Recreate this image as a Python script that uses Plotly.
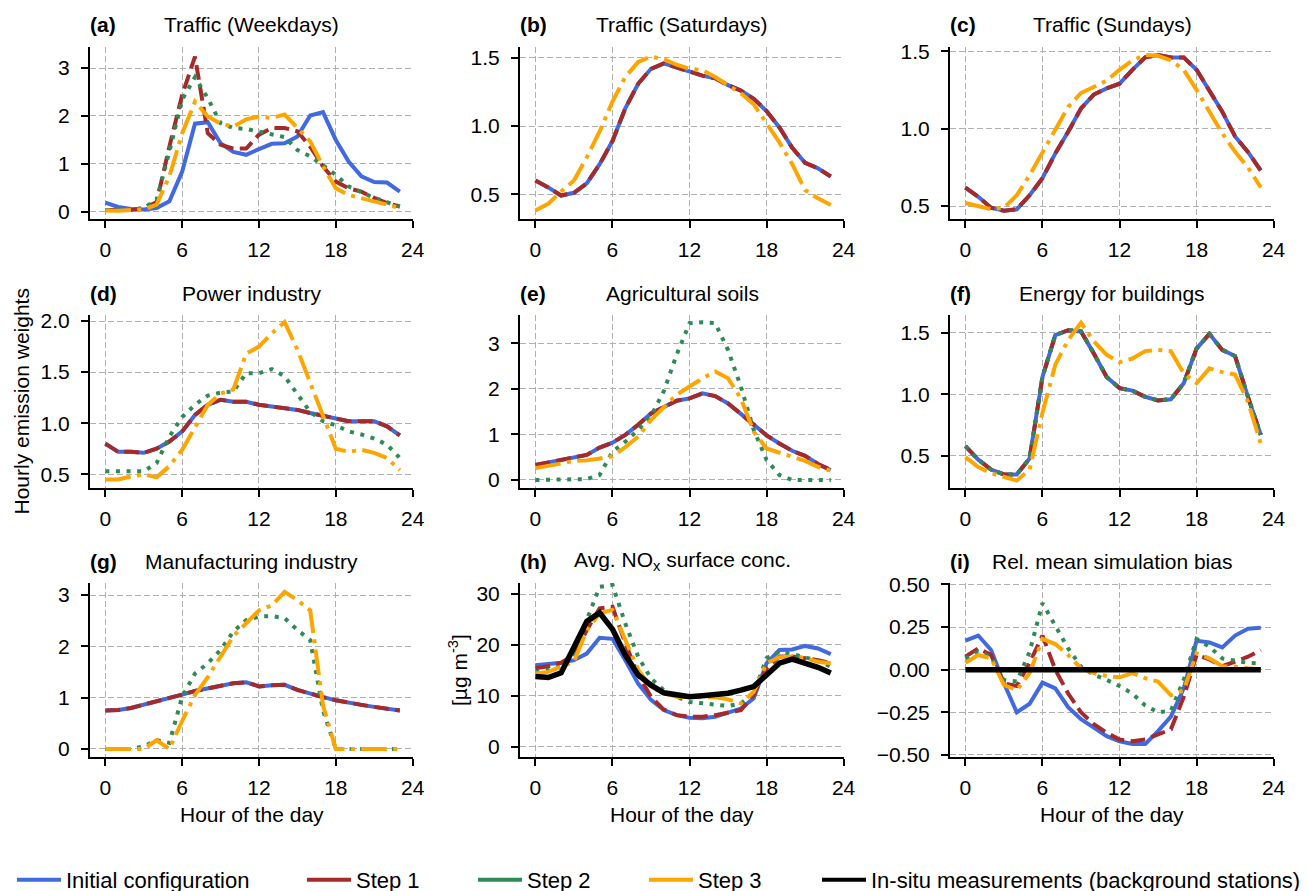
import plotly.graph_objects as go
from plotly.subplots import make_subplots

W, H = 1307, 891
hours = list(range(24))
xticks = [0, 6, 12, 18, 24]

# ---------------- data ----------------
# (a) Traffic (Weekdays)
a_init = [0.19, 0.10, 0.06, 0.05, 0.08, 0.22, 0.84, 1.84, 1.87, 1.43, 1.25, 1.19,
          1.31, 1.42, 1.43, 1.57, 2.01, 2.08, 1.50, 1.05, 0.74, 0.62, 0.61, 0.42]
a_s1 = [0.04, 0.03, 0.04, 0.08, 0.20, 1.36, 2.44, 3.24, 1.64, 1.40, 1.32, 1.32,
        1.61, 1.75, 1.75, 1.68, 1.36, 0.95, 0.63, 0.49, 0.42, 0.29, 0.18, 0.11]
a_s2 = [0.04, 0.03, 0.04, 0.08, 0.25, 1.26, 2.34, 2.81, 2.37, 1.85, 1.75, 1.73,
        1.68, 1.61, 1.56, 1.29, 1.16, 0.97, 0.77, 0.53, 0.40, 0.29, 0.20, 0.11]
a_s3 = [0.03, 0.02, 0.04, 0.05, 0.15, 0.74, 1.64, 2.30, 1.99, 1.84, 1.78, 1.93,
        1.99, 1.96, 2.03, 1.76, 1.47, 0.95, 0.49, 0.35, 0.29, 0.22, 0.15, 0.08]

# (b) Traffic (Saturdays)
b_init = [0.60, 0.55, 0.49, 0.51, 0.58, 0.72, 0.89, 1.13, 1.31, 1.42, 1.46, 1.43,
          1.40, 1.37, 1.35, 1.30, 1.26, 1.20, 1.11, 0.99, 0.84, 0.73, 0.69, 0.63]
b_s1 = [0.60, 0.55, 0.49, 0.51, 0.58, 0.72, 0.89, 1.13, 1.31, 1.42, 1.46, 1.43,
        1.40, 1.37, 1.35, 1.30, 1.26, 1.20, 1.11, 0.99, 0.84, 0.73, 0.69, 0.63]
b_s3 = [0.38, 0.43, 0.52, 0.60, 0.77, 0.96, 1.18, 1.36, 1.47, 1.51, 1.49, 1.45,
        1.42, 1.41, 1.36, 1.30, 1.24, 1.16, 1.02, 0.88, 0.72, 0.53, 0.47, 0.42]

# (c) Traffic (Sundays)
c_init = [0.62, 0.56, 0.49, 0.47, 0.48, 0.57, 0.68, 0.84, 0.98, 1.13, 1.22, 1.26,
          1.29, 1.38, 1.46, 1.475, 1.46, 1.46, 1.38, 1.25, 1.11, 0.95, 0.85, 0.73]
c_s1 = [0.62, 0.56, 0.49, 0.47, 0.48, 0.57, 0.68, 0.84, 0.98, 1.13, 1.22, 1.26,
        1.29, 1.38, 1.46, 1.475, 1.46, 1.46, 1.38, 1.25, 1.11, 0.95, 0.85, 0.73]
c_s3 = [0.52, 0.50, 0.48, 0.49, 0.57, 0.70, 0.85, 1.00, 1.14, 1.23, 1.27, 1.31,
        1.38, 1.44, 1.475, 1.47, 1.44, 1.38, 1.25, 1.11, 0.97, 0.85, 0.75, 0.62]

# (d) Power industry
d_init = [0.80, 0.72, 0.72, 0.71, 0.75, 0.82, 0.92, 1.08, 1.18, 1.23, 1.21, 1.21,
          1.18, 1.16, 1.15, 1.13, 1.10, 1.07, 1.04, 1.02, 1.02, 1.02, 0.97, 0.88]
d_s1 = [0.80, 0.72, 0.72, 0.71, 0.75, 0.82, 0.92, 1.08, 1.18, 1.23, 1.21, 1.21,
        1.18, 1.16, 1.15, 1.13, 1.10, 1.07, 1.04, 1.02, 1.02, 1.02, 0.97, 0.88]
d_s2 = [0.53, 0.53, 0.53, 0.53, 0.61, 0.87, 1.06, 1.18, 1.27, 1.30, 1.31, 1.49,
        1.49, 1.53, 1.46, 1.29, 1.11, 1.02, 0.98, 0.92, 0.89, 0.85, 0.79, 0.66]
d_s3 = [0.45, 0.45, 0.48, 0.50, 0.47, 0.58, 0.74, 0.97, 1.18, 1.29, 1.33, 1.68,
        1.75, 1.88, 1.99, 1.72, 1.39, 1.06, 0.75, 0.72, 0.74, 0.71, 0.66, 0.54]

# (e) Agricultural soils
e_init = [0.33, 0.38, 0.44, 0.50, 0.55, 0.71, 0.82, 0.99, 1.21, 1.46, 1.59, 1.74,
          1.79, 1.90, 1.84, 1.68, 1.45, 1.21, 0.98, 0.80, 0.64, 0.53, 0.35, 0.22]
e_s1 = [0.33, 0.38, 0.44, 0.50, 0.55, 0.71, 0.82, 0.99, 1.21, 1.46, 1.59, 1.74,
        1.79, 1.90, 1.84, 1.68, 1.45, 1.21, 0.98, 0.80, 0.64, 0.53, 0.35, 0.22]
e_s2 = [0.0, 0.0, 0.0, 0.0, 0.02, 0.11, 0.62, 0.84, 1.10, 1.40, 1.95, 2.75,
        3.44, 3.46, 3.44, 2.85, 2.05, 1.10, 0.44, 0.11, 0.0, 0.0, 0.0, 0.0]
e_s3 = [0.26, 0.30, 0.36, 0.42, 0.43, 0.47, 0.52, 0.72, 0.95, 1.32, 1.61, 1.87,
        2.05, 2.23, 2.38, 2.23, 1.79, 1.06, 0.69, 0.60, 0.51, 0.42, 0.29, 0.20]

# (f) Energy for buildings
f_init = [0.58, 0.47, 0.39, 0.35, 0.35, 0.48, 1.14, 1.48, 1.52, 1.51, 1.33, 1.14,
          1.05, 1.03, 0.98, 0.95, 0.96, 1.09, 1.37, 1.49, 1.36, 1.31, 0.98, 0.67]
f_s1 = [0.58, 0.47, 0.39, 0.35, 0.35, 0.48, 1.14, 1.48, 1.52, 1.51, 1.33, 1.14,
        1.05, 1.03, 0.98, 0.95, 0.96, 1.09, 1.37, 1.49, 1.36, 1.31, 0.98, 0.67]
f_s2 = [0.58, 0.47, 0.39, 0.35, 0.35, 0.48, 1.14, 1.48, 1.52, 1.51, 1.33, 1.14,
        1.05, 1.03, 0.98, 0.95, 0.96, 1.09, 1.37, 1.49, 1.36, 1.31, 0.98, 0.67]
f_s3 = [0.49, 0.41, 0.36, 0.33, 0.30, 0.39, 0.85, 1.24, 1.44, 1.58, 1.43, 1.32,
        1.26, 1.29, 1.35, 1.36, 1.35, 1.17, 1.09, 1.21, 1.18, 1.16, 0.94, 0.60]

# (g) Manufacturing industry
g_init = [0.75, 0.76, 0.80, 0.86, 0.93, 1.00, 1.06, 1.13, 1.18, 1.23, 1.28, 1.30,
          1.22, 1.24, 1.25, 1.15, 1.07, 1.01, 0.95, 0.90, 0.86, 0.82, 0.79, 0.75]
g_s1 = [0.75, 0.76, 0.80, 0.86, 0.93, 1.00, 1.06, 1.13, 1.18, 1.23, 1.28, 1.30,
        1.22, 1.24, 1.25, 1.15, 1.07, 1.01, 0.95, 0.90, 0.86, 0.82, 0.79, 0.75]
g_s2 = [0.0, 0.0, 0.0, 0.05, 0.17, 0.12, 1.02, 1.47, 1.67, 1.93, 2.29, 2.51,
        2.58, 2.59, 2.55, 2.32, 2.12, 0.75, 0.0, 0.0, 0.0, 0.0, 0.0, 0.0]
g_s3 = [0.0, 0.0, 0.0, 0.0, 0.17, 0.0, 0.55, 1.05, 1.40, 1.80, 2.20, 2.45,
        2.70, 2.80, 3.06, 2.90, 2.70, 0.85, 0.0, 0.0, 0.0, 0.0, 0.0, 0.0]

# (h) Avg. NOx surface concentration [µg m-3]
h_init = [16.0, 16.2, 16.5, 17.0, 18.3, 21.4, 21.2, 17.0, 12.4, 9.2, 7.2, 6.2,
          5.7, 5.6, 5.9, 6.7, 7.5, 9.5, 16.4, 19.0, 19.1, 19.8, 19.3, 18.2]
h_s1 = [15.4, 15.8, 16.5, 18.0, 22.9, 27.2, 27.5, 20.3, 14.1, 9.8, 7.3, 6.2,
        5.9, 5.9, 6.2, 6.7, 7.2, 10.2, 15.4, 17.7, 17.7, 17.4, 17.0, 16.4]
h_s2 = [14.7, 15.1, 15.8, 18.0, 24.9, 31.4, 31.8, 24.2, 17.7, 13.4, 11.1, 9.8,
        8.8, 8.5, 8.2, 8.0, 8.5, 10.5, 17.4, 18.7, 18.2, 17.5, 16.9, 15.7]
h_s3 = [14.4, 14.7, 15.7, 16.7, 22.9, 26.2, 26.9, 21.0, 15.1, 11.8, 10.5, 9.8,
        9.7, 9.7, 9.7, 9.3, 8.5, 10.8, 16.4, 17.6, 17.7, 17.4, 16.7, 16.4]
h_obs = [13.8, 13.6, 14.5, 19.3, 24.6, 26.3, 23.1, 18.0, 14.1, 12.1, 10.6, 10.2,
         9.8, 10.0, 10.2, 10.5, 11.1, 11.8, 14.1, 16.4, 17.2, 16.5, 15.6, 14.5]

# (i) Rel. mean simulation bias
i_init = [0.17, 0.20, 0.115, -0.08, -0.25, -0.20, -0.076, -0.11, -0.22, -0.29, -0.34, -0.39,
          -0.42, -0.436, -0.436, -0.36, -0.275, -0.11, 0.17, 0.16, 0.13, 0.20, 0.24, 0.245]
i_s1 = [0.076, 0.125, 0.086, -0.08, -0.096, 0.04, 0.20, 0.0, -0.14, -0.25, -0.32, -0.37,
        -0.41, -0.42, -0.41, -0.38, -0.35, -0.16, 0.086, 0.06, 0.02, 0.047, 0.076, 0.115]
i_s2 = [0.066, 0.105, 0.076, -0.06, -0.07, 0.105, 0.39, 0.26, 0.125, 0.018, -0.03, -0.06,
        -0.096, -0.14, -0.21, -0.25, -0.24, -0.06, 0.18, 0.135, 0.066, 0.053, 0.04, 0.037]
i_s3 = [0.04, 0.086, 0.066, -0.09, -0.12, -0.02, 0.18, 0.15, 0.086, 0.008, -0.02, -0.037,
        -0.045, -0.02, -0.05, -0.07, -0.15, -0.12, 0.096, 0.066, 0.02, 0.018, 0.008, 0.002]
i_obs = [0.0, 0.0, 0.0, 0.0, 0.0, 0.0, 0.0, 0.0, 0.0, 0.0, 0.0, 0.0,
         0.0, 0.0, 0.0, 0.0, 0.0, 0.0, 0.0, 0.0, 0.0, 0.0, 0.0, 0.0]

series_names = {
    "init": "Initial configuration",
    "s1": "Step 1",
    "s2": "Step 2",
    "s3": "Step 3",
    "obs": "In-situ measurements (background stations)",
}

panel_labels = ["(a)", "(b)", "(c)", "(d)", "(e)", "(f)", "(g)", "(h)", "(i)"]
panel_titles = ["Traffic (Weekdays)", "Traffic (Saturdays)", "Traffic (Sundays)",
                "Power industry", "Agricultural soils", "Energy for buildings",
                "Manufacturing industry", "Avg. NO<sub>x</sub> surface conc.",
                "Rel. mean simulation bias"]
panel_series = [
    {"init": a_init, "s1": a_s1, "s2": a_s2, "s3": a_s3},
    {"init": b_init, "s1": b_s1, "s3": b_s3},
    {"init": c_init, "s1": c_s1, "s3": c_s3},
    {"init": d_init, "s1": d_s1, "s2": d_s2, "s3": d_s3},
    {"init": e_init, "s1": e_s1, "s2": e_s2, "s3": e_s3},
    {"init": f_init, "s1": f_s1, "s2": f_s2, "s3": f_s3},
    {"init": g_init, "s1": g_s1, "s2": g_s2, "s3": g_s3},
    {"init": h_init, "s1": h_s1, "s2": h_s2, "s3": h_s3, "obs": h_obs},
    {"init": i_init, "s1": i_s1, "s2": i_s2, "s3": i_s3, "obs": i_obs},
]
y_ticks = [
    [0, 1, 2, 3], [0.5, 1.0, 1.5], [0.5, 1.0, 1.5],
    [0.5, 1.0, 1.5, 2.0], [0, 1, 2, 3], [0.5, 1.0, 1.5],
    [0, 1, 2, 3], [0, 10, 20, 30], [-0.5, -0.25, 0.0, 0.25, 0.5],
]
y_ticktext = [
    ["0", "1", "2", "3"], ["0.5", "1.0", "1.5"], ["0.5", "1.0", "1.5"],
    ["0.5", "1.0", "1.5", "2.0"], ["0", "1", "2", "3"], ["0.5", "1.0", "1.5"],
    ["0", "1", "2", "3"], ["0", "10", "20", "30"],
    ["\u22120.50", "\u22120.25", "0.00", "0.25", "0.50"],
]

# ---------------- styling / layout ----------------
styles = {
    "init": dict(color="#4169E1", width=4, dash="solid"),
    "s1": dict(color="#A52A2A", width=4, dash="14.8px,6.4px"),
    "s2": dict(color="#2E8B57", width=4, dash="4px,6.6px"),
    "s3": dict(color="#FFA500", width=4, dash="25.6px,6.4px,4px,6.4px"),
    "obs": dict(color="black", width=5.5, dash="solid"),
}
order = ["init", "s1", "s2", "s3", "obs"]

y_ranges = [[-0.15, 3.44], [0.318, 1.58], [0.417, 1.527],
            [0.366, 2.059], [-0.176, 3.62], [0.24, 1.643],
            [-0.156, 3.234], [-2.02, 32.16], [-0.512, 0.508]]
x_range = [-1.2, 24.03]

col_px = [(90, 413), (520, 844), (950, 1274)]
row_px = [(47, 219), (315, 488), (583, 757)]

FONT = "Liberation Sans, Arial, sans-serif"
FS = 21

fig = make_subplots(rows=3, cols=3)

for k in range(9):
    r, c = divmod(k, 3)
    for key in order:
        if key in panel_series[k]:
            fig.add_trace(go.Scatter(
                x=hours, y=panel_series[k][key], mode="lines",
                line=styles[key], name=series_names[key], showlegend=False,
                hoverinfo="skip"), row=r + 1, col=c + 1)

common = dict(showline=True, linecolor="black", linewidth=2, ticks="outside",
              ticklen=7, tickwidth=2, tickcolor="black", showgrid=True,
              gridcolor="#b0b0b0", gridwidth=1, griddash="6px,3px",
              zeroline=False, mirror=False, fixedrange=True,
              tickfont=dict(family=FONT, size=FS, color="black"))

annotations = []
for k in range(9):
    r, c = divmod(k, 3)
    sfx = "" if k == 0 else str(k + 1)
    x0, x1 = col_px[c]
    y0, y1 = row_px[r]
    fig.layout["xaxis" + sfx].update(
        domain=[x0 / W, x1 / W], range=x_range, tickvals=xticks,
        ticktext=[str(t) for t in xticks], ticklabelstandoff=4, **common)
    fig.layout["yaxis" + sfx].update(
        domain=[1 - y1 / H, 1 - y0 / H], range=y_ranges[k], tickvals=y_ticks[k],
        ticktext=y_ticktext[k], ticklabelstandoff=7, **common)
    annotations.append(dict(text="<b>" + panel_labels[k] + "</b>",
                            xref="x" + sfx + " domain", yref="y" + sfx + " domain",
                            x=0, y=1, xanchor="left", yanchor="middle", yshift=22, xshift=-2,
                            showarrow=False, font=dict(family=FONT, size=FS, color="black")))
    annotations.append(dict(text=panel_titles[k],
                            xref="x" + sfx + " domain", yref="y" + sfx + " domain",
                            x=0.5, y=1, xanchor="center", yanchor="middle", yshift=22,
                            showarrow=False, font=dict(family=FONT, size=FS, color="black")))
    if r == 2:
        annotations.append(dict(text="Hour of the day",
                                xref="x" + sfx + " domain", yref="y" + sfx + " domain",
                                x=0.5, y=0, xanchor="center", yanchor="middle", yshift=-57,
                                showarrow=False, font=dict(family=FONT, size=FS, color="black")))

annotations.append(dict(text="Hourly emission weights", xref="paper", yref="y4 domain",
                        x=21 / W, y=0.5, xanchor="center", yanchor="middle", textangle=-90,
                        showarrow=False, font=dict(family=FONT, size=FS, color="black")))
annotations.append(dict(text="[µg m<sup>-3</sup>]", xref="paper", yref="y8 domain",
                        x=458 / W, y=0.5, xanchor="center", yanchor="middle", textangle=-90,
                        showarrow=False, font=dict(family=FONT, size=FS, color="black")))

# legend: one legend per entry, solid keys
legend_ids = ["legend", "legend2", "legend3", "legend4", "legend5"]
legend_x_px = [12, 302, 473, 644, 817]
legend_layout = {}
for lid, key, xp in zip(legend_ids, order, legend_x_px):
    fig.add_trace(go.Scatter(x=[None], y=[None], mode="lines",
                             line=dict(color=styles[key]["color"], width=4),
                             name=series_names[key], showlegend=True, legend=lid))
    legend_layout[lid] = dict(orientation="h", x=xp / W, xanchor="left",
                              y=1 - 880 / H, yanchor="middle", itemwidth=44,
                              bgcolor="rgba(0,0,0,0)", borderwidth=0,
                              font=dict(family=FONT, size=22, color="black"))

fig.update_layout(
    width=W, height=H,
    margin=dict(l=0, r=0, t=0, b=0, autoexpand=False),
    paper_bgcolor="white", plot_bgcolor="white",
    font=dict(family=FONT, size=FS, color="black"),
    annotations=annotations,
    **legend_layout,
)

fig.write_html("out.html")
